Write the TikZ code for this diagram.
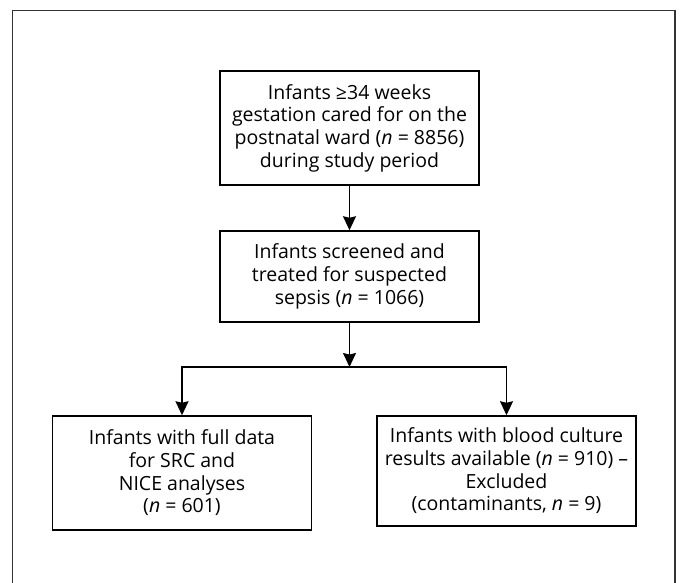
\documentclass[tikz,border=0pt]{standalone}
\usepackage{fontspec}
\setmainfont{Open Sans}
\usetikzlibrary{arrows.meta}
\begin{document}
\begin{tikzpicture}[x=1pt, y=-1pt, font=\fontsize{19.5}{22.7}\selectfont, line join=miter, >={Stealth[length=14pt, width=13pt, inset=1.5pt]},
  box/.style={draw, line width=1.5pt, align=center, inner sep=0pt, minimum width=259pt}]
\useasboundingbox (0,0) rectangle (681,583);
\draw[line width=1.3pt, black!80] (12.5,583)--(12.5,10.5)--(675,10.5)--(675,583);
\node[box, minimum height=114pt] (ward) at (349.5,128) {Infants ≥34 weeks\\gestation cared for on the\\postnatal ward (\textit{n} = 8856)\\during study period};
\node[box, minimum height=91pt] (screen) at (349.5,276.5) {Infants screened and\\treated for suspected\\sepsis (\textit{n} = 1066)};
\node[box, minimum height=114pt] (full) at (182,473) {Infants with full data\\for SRC and\\NICE analyses\\(\textit{n} = 601)};
\node[box, minimum height=110pt] (blood) at (506.5,471) {Infants with blood culture\\results available (\textit{n} = 910) –\\Excluded\\(contaminants, \textit{n} = 9)};
\path (349.5,367) coordinate (split);
\begin{scope}[line width=1.5pt]
\draw[->] (ward)--(screen);
\draw[->] (screen)--(split);
\draw[<->] (full.north)--(full.north|-split)--(blood.north|-split)--(blood.north);
\end{scope}
\end{tikzpicture}
\end{document}
